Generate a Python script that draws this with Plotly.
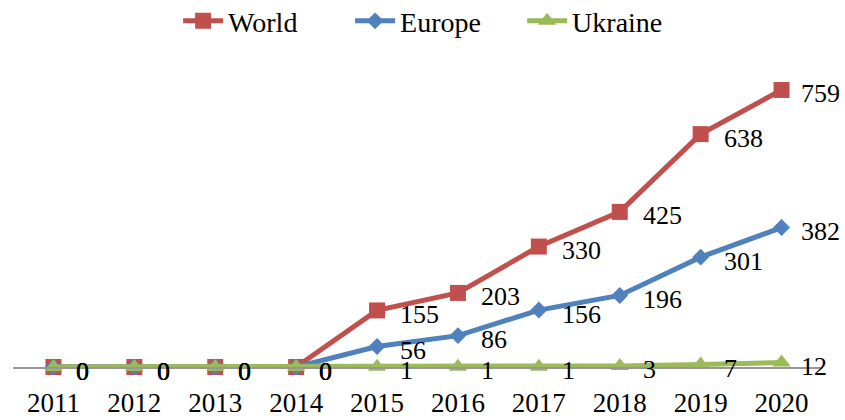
import plotly.graph_objects as go

years = ["2011", "2012", "2013", "2014", "2015", "2016", "2017", "2018", "2019", "2020"]
world = [0, 0, 0, 0, 155, 203, 330, 425, 638, 759]
europe = [0, 0, 0, 0, 56, 86, 156, 196, 301, 382]
ukraine = [0, 0, 0, 0, 1, 1, 1, 3, 7, 12]

font_family = "Liberation Serif"
fig = go.Figure()

series = [
    ("World", world, "#C0504D", "square", 16),
    ("Europe", europe, "#4F81BD", "diamond", 13),
    ("Ukraine", ukraine, "#9BBB59", "triangle-up", 16),
]
annotations = []
for name, vals, col, sym, size in series:
    fig.add_trace(go.Scatter(
        x=years, y=vals, name=name, mode="lines+markers",
        line=dict(color=col, width=5),
        marker=dict(symbol=sym, size=size, color=col),
        cliponaxis=False,
    ))
    for i, yv in enumerate(vals):
        annotations.append(dict(
            x=i, y=yv, xref="x", yref="y", text=str(yv), showarrow=False,
            xanchor="left", yanchor="middle",
            xshift=17 if i == len(vals) - 1 else 21, yshift=-4,
            font=dict(family=font_family, size=26, color="black"),
        ))

fig.update_layout(
    width=845, height=420,
    margin=dict(l=12.5, r=22.5, t=75, b=52.5, autoexpand=False),
    paper_bgcolor="white", plot_bgcolor="white",
    font=dict(family=font_family, size=27, color="black"),
    showlegend=True,
    annotations=annotations,
    legend=dict(orientation="h", x=0.523, xanchor="center", y=1.27, yref="paper",
                yanchor="top", font=dict(family=font_family, size=28),
                entrywidth=117, entrywidthmode="pixels",
                itemwidth=40, tracegroupgap=0),
    xaxis=dict(type="category", range=[-0.5, 9.5], showgrid=False,
               showline=True, linecolor="#969696", linewidth=1.5,
               ticks="outside", ticklen=11, tickcolor="rgba(0,0,0,0)",
               tickfont=dict(family=font_family, size=27)),
    yaxis=dict(range=[0, 800], visible=False, showgrid=False, zeroline=False),
)

fig.write_html(
    "out.html",
    config={"displayModeBar": False},
    post_script="document.body.style.margin='0';document.body.style.overflow='hidden';",
)
